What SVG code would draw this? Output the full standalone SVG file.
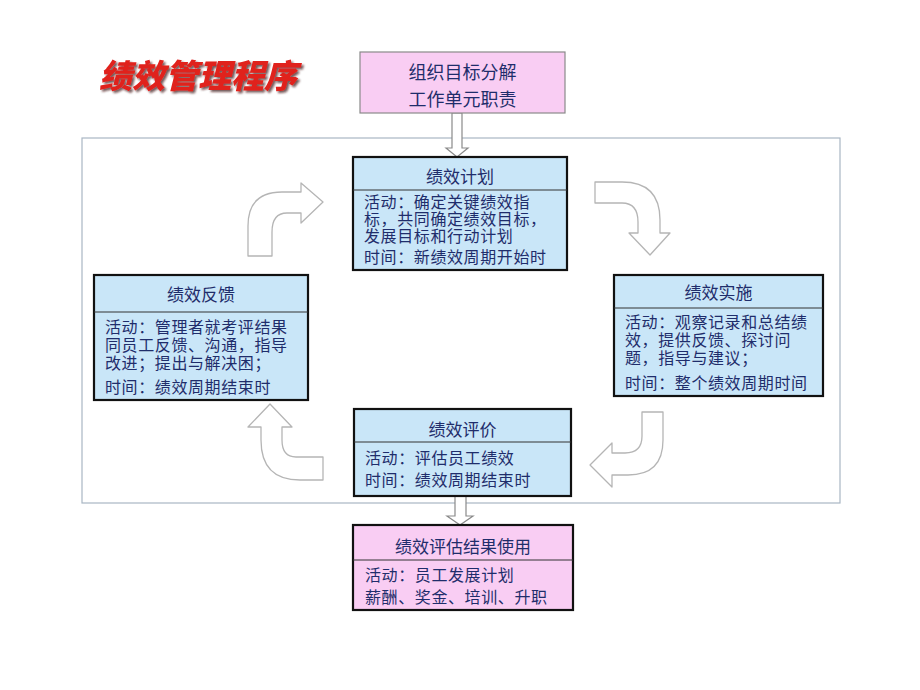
<svg xmlns="http://www.w3.org/2000/svg" width="920" height="690" viewBox="0 0 920 690">
<defs>
<style>
.t{font-family:"Noto Sans CJK SC","Noto Sans",sans-serif;fill:#1f2d6b;}
.b{font-size:16px;letter-spacing:0.6px;}
.h{font-size:17px;text-anchor:middle;}
.box{stroke:#111;stroke-width:2.2;}
.blue{fill:#c9e6f8;}
.pink{fill:#f9cdf3;}
.div{stroke:#333;stroke-width:1;}
.arr{fill:#fff;stroke:#b5b5b5;stroke-width:1.3;stroke-linejoin:round;}
.fat{fill:#fff;stroke:#8a8a8a;stroke-width:1.2;}
</style>
<filter id="sh" x="-10%" y="-20%" width="130%" height="150%">
<feDropShadow dx="2" dy="2" stdDeviation="1.2" flood-color="#3a1010" flood-opacity="0.7"/>
</filter>
</defs>
<rect width="920" height="690" fill="#fff"/>
<text x="99" y="88" font-family="'Noto Sans CJK SC',sans-serif" font-size="33" font-weight="900" font-style="italic" fill="#e0201c" filter="url(#sh)">绩效管理程序</text>

<rect id="frame" x="82" y="138" width="758" height="365" fill="none" stroke="#a9b6c4" stroke-width="1.2"/>

<g id="connectors">
<path class="fat" d="M452,113 V148 H446 L457,157 L468,148 H462 V113 Z"/>
<path class="fat" d="M455,496 V516 H447 L460,525 L473,516 H466 V496 Z"/>
<path class="arr" d="M248,256 V226 Q248,192 282,192 H301 V183 L323,202 L301,223 V213 H287 Q272,213 272,232 V256 Z"/>
<path class="arr" d="M595,182 H622 Q660,182 660,220 V233 H670 L650,255 L629,233 H638 V222 Q638,203 622,203 H595 Z"/>
<path class="arr" d="M323,457 H296 Q282,457 282,440 V427 H292 L270,404 L248,427 H261 V440 Q261,480 300,480 H323 Z"/>
<path class="arr" d="M642,412 H663 V440 Q663,475 628,475 H612 V487 L590,465 L612,443 V453 H625 Q642,453 642,436 Z"/>
</g>

<g id="source">
<rect x="360" y="52" width="205" height="61" fill="#f9cdf3" stroke="#8a8a8a" stroke-width="1.2"/>
<text class="t" x="462.5" y="79" font-size="18" text-anchor="middle">组织目标分解</text>
<text class="t" x="462.5" y="106" font-size="18" text-anchor="middle">工作单元职责</text>
</g>

<g id="plan">
<rect class="box blue" x="353" y="157" width="214" height="113"/>
<line class="div" x1="353" y1="190" x2="567" y2="190"/>
<text class="t h" x="460" y="183">绩效计划</text>
<text class="t b" x="364" y="208"><tspan x="364" y="208">活动：确定关键绩效指</tspan><tspan x="364" y="225">标，共同确定绩效目标，</tspan><tspan x="364" y="242">发展目标和行动计划</tspan></text>
<text class="t b" x="364" y="263">时间：新绩效周期开始时</text>
</g>

<g id="feedback">
<rect class="box blue" x="94" y="275" width="214" height="125"/>
<line class="div" x1="94" y1="312" x2="308" y2="312"/>
<text class="t h" x="201" y="301">绩效反馈</text>
<text class="t b" x="105" y="333"><tspan x="105" y="333">活动：管理者就考评结果</tspan><tspan x="105" y="351">同员工反馈、沟通，指导</tspan><tspan x="105" y="369">改进；提出与解决困；</tspan></text>
<text class="t b" x="105" y="393">时间：绩效周期结束时</text>
</g>

<g id="implement">
<rect class="box blue" x="614" y="275" width="209" height="121"/>
<line class="div" x1="614" y1="308" x2="823" y2="308"/>
<text class="t h" x="718.5" y="299">绩效实施</text>
<text class="t b" x="625" y="328"><tspan x="625" y="328">活动：观察记录和总结绩</tspan><tspan x="625" y="346">效，提供反馈、探讨问</tspan><tspan x="625" y="364">题，指导与建议；</tspan></text>
<text class="t b" x="625" y="389">时间：整个绩效周期时间</text>
</g>

<g id="evaluate">
<rect class="box blue" x="354" y="409" width="217" height="87"/>
<line class="div" x1="354" y1="442" x2="571" y2="442"/>
<text class="t h" x="462.5" y="436">绩效评价</text>
<text class="t b" x="365" y="464">活动：评估员工绩效</text>
<text class="t b" x="365" y="486">时间：绩效周期结束时</text>
</g>

<g id="result">
<rect class="box pink" x="353" y="525" width="220" height="85"/>
<line class="div" x1="353" y1="560" x2="573" y2="560"/>
<text class="t h" x="463" y="553">绩效评估结果使用</text>
<text class="t b" x="365" y="581">活动：员工发展计划</text>
<text class="t b" x="365" y="603">薪酬、奖金、培训、升职</text>
</g>
</svg>
